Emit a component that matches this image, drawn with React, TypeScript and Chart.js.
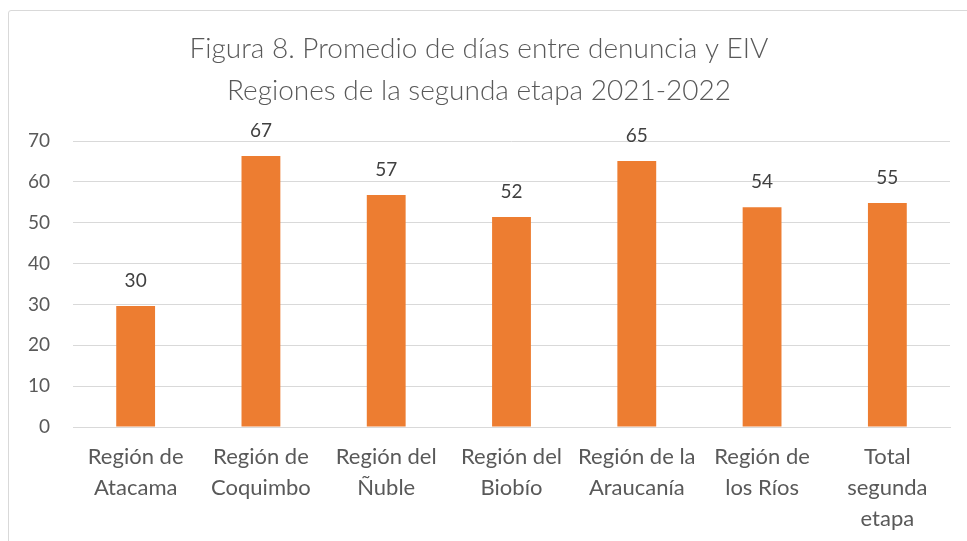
import React, { useEffect, useRef } from "react";
import { Chart, registerables } from "chart.js";

Chart.register(...registerables);

const titleLines = ["Figura 8. Promedio de días entre denuncia y EIV", "Regiones de la segunda etapa 2021-2022"];
const categories = [
  ["Región de", "Atacama"],
  ["Región de", "Coquimbo"],
  ["Región del", "Ñuble"],
  ["Región del", "Biobío"],
  ["Región de la", "Araucanía"],
  ["Región de", "los Ríos"],
  ["Total", "segunda", "etapa"],
];
const values = [29.6, 66.3, 56.8, 51.4, 65.1, 53.8, 54.8];
const valueLabels = ["30", "67", "57", "52", "65", "54", "55"];
const yTicks = [0, 10, 20, 30, 40, 50, 60, 70];

const FONT = "Lato, 'Open Sans', sans-serif";
const TEXT = "#595959";

const dataLabelPlugin = {
  id: "dataLabels",
  afterDatasetsDraw(chart: any) {
    const ctx = chart.ctx;
    const meta = chart.getDatasetMeta(0);
    ctx.save();
    ctx.font = `19px ${FONT}`;
    ctx.fillStyle = "#404040";
    ctx.textAlign = "center";
    ctx.textBaseline = "middle";
    meta.data.forEach((bar: any, i: number) => {
      ctx.fillText(valueLabels[i], bar.x, bar.y - 25);
    });
    ctx.restore();
  },
};

export default function App() {
  const ref = useRef<HTMLCanvasElement>(null);
  useEffect(() => {
    if (!ref.current) return;
    const chart = new Chart(ref.current, {
      type: "bar",
      data: {
        labels: categories,
        datasets: [
          {
            data: values,
            backgroundColor: "#ED7D31",
            borderWidth: 0,
            categoryPercentage: 1,
            barPercentage: 0.31,
          },
        ],
      },
      options: {
        animation: false,
        responsive: false,
        maintainAspectRatio: false,
        layout: { padding: { top: 0, left: 8, right: 17, bottom: 0 } },
        plugins: {
          legend: { display: false },
          tooltip: { enabled: false },
          title: {
            display: true,
            text: titleLines,
            color: TEXT,
            font: { family: FONT, size: 28, weight: "300", lineHeight: 1.5 },
            padding: { top: 28, bottom: 29 },
          },
        },
        scales: {
          x: {
            grid: { display: false, drawTicks: false },
            border: { display: true, color: "#d9d9d9", width: 1 },
            ticks: {
              color: TEXT,
              font: { family: FONT, size: 22, lineHeight: 1.4 },
              padding: 15,
              maxRotation: 0,
              autoSkip: false,
            },
            afterFit(scale: any) {
              scale.height = 114;
            },
          },
          y: {
            min: 0,
            max: 70,
            afterBuildTicks(scale: any) {
              scale.ticks = yTicks.map((v) => ({ value: v }));
            },
            grid: { color: "#d9d9d9", drawTicks: false },
            border: { display: false },
            ticks: {
              color: TEXT,
              font: { family: FONT, size: 19 },
              padding: 23,
            },
            afterFit(scale: any) {
              scale.width = 65;
            },
          },
        },
      },
      plugins: [dataLabelPlugin],
    });
    return () => chart.destroy();
  }, []);

  return (
    <div style={{ position: "fixed", left: 0, top: 0, width: 967, height: 541, background: "#fff", overflow: "hidden" }}>
      <div
        style={{
          position: "absolute",
          left: 8,
          top: 10,
          width: 1000,
          height: 600,
          border: "1px solid #d9d9d9",
          borderRadius: 3,
        }}
      />
      <canvas ref={ref} width={967} height={541} style={{ position: "absolute", left: 0, top: 0 }} />
    </div>
  );
}
